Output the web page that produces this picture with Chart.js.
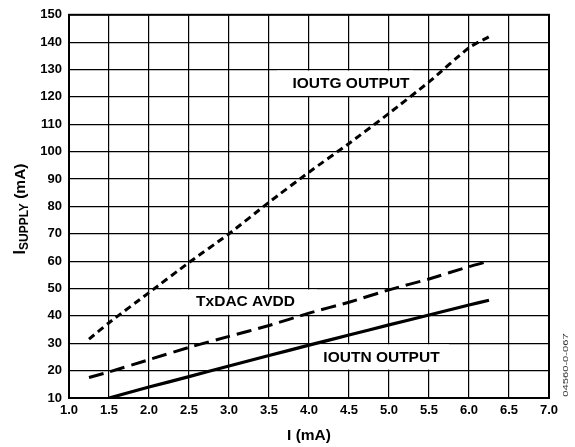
<!DOCTYPE html>
<html>
<head>
<meta charset="utf-8">
<script src="https://cdn.jsdelivr.net/npm/chart.js@4.4.1/dist/chart.umd.min.js"></script>
<style>
html,body{margin:0;padding:0;background:#fff;}
#wrap{width:575px;height:447px;position:relative;}
</style>
</head>
<body>
<div id="wrap"><canvas id="c" width="575" height="447"></canvas></div>
<script>
// Data
const currentMA = [1.25, 1.5, 2.0, 2.5, 3.0, 3.5, 4.0, 4.5, 5.0, 5.5, 6.0, 6.25];
const ioutgOutput = [31.5, 37.5, 48.5, 59.5, 70, 81.5, 92.5, 103, 114, 125.5, 138, 142];
const txdacAvdd = [17.5, 19.5, 24, 28.5, 32.5, 36.5, 41, 45, 49.5, 53.5, 58, 60];
const ioutnX = [1.5, 2.0, 2.5, 3.0, 3.5, 4.0, 4.5, 5.0, 5.5, 6.0, 6.25];
const ioutnOutput = [10, 14, 17.8, 21.7, 25.5, 29.3, 33, 36.7, 40.3, 44, 45.7];
const xTicks = [1.0, 1.5, 2.0, 2.5, 3.0, 3.5, 4.0, 4.5, 5.0, 5.5, 6.0, 6.5, 7.0];
const yTicks = [10, 20, 30, 40, 50, 60, 70, 80, 90, 100, 110, 120, 130, 140, 150];
const annotations = [
  {text: 'IOUTG OUTPUT', x: 4.525, y: 124.8, x0: 3.6, x1: 5.3, yTop: 130, yBot: 120},
  {text: 'TxDAC AVDD', x: 3.206, y: 45, x0: 2.4, x1: 4.1, yTop: 50, yBot: 40},
  {text: 'IOUTN OUTPUT', x: 4.906, y: 24.6, x0: 4.1, x1: 5.75, yTop: 30, yBot: 20}
];

const toPts = (xs, ys) => xs.map((x, i) => ({x: x, y: ys[i]}));
const FONT = '"Liberation Sans", Arial, Helvetica, sans-serif';

const decor = {
  id: 'decor',
  beforeDatasetsDraw(chart) {
    const {ctx, scales: {x, y}} = chart;
    ctx.save();
    ctx.fillStyle = '#fff';
    annotations.forEach(a => {
      const l = x.getPixelForValue(a.x0), r = x.getPixelForValue(a.x1);
      const t = y.getPixelForValue(a.yTop) + 1, b = y.getPixelForValue(a.yBot) - 1;
      ctx.fillRect(l, t, r - l, b - t);
    });
    ctx.fillStyle = '#000';
    ctx.font = 'bold 15.5px ' + FONT;
    ctx.textAlign = 'center';
    ctx.textBaseline = 'middle';
    annotations.forEach(a => {
      ctx.fillText(a.text, x.getPixelForValue(a.x), y.getPixelForValue(a.y));
    });
    ctx.restore();
  },
  afterDraw(chart) {
    const {ctx, chartArea: ca} = chart;
    ctx.save();
    ctx.strokeStyle = '#000';
    ctx.lineWidth = 2;
    ctx.strokeRect(ca.left, ca.top, ca.right - ca.left, ca.bottom - ca.top);
    // x title
    ctx.fillStyle = '#000';
    ctx.font = 'bold 15.5px ' + FONT;
    ctx.textAlign = 'center';
    ctx.textBaseline = 'middle';
    ctx.fillText('I (mA)', (ca.left + ca.right) / 2, 436);
    // y title with subscript
    ctx.translate(19, 209);
    ctx.rotate(-Math.PI / 2);
    ctx.textAlign = 'left';
    ctx.textBaseline = 'alphabetic';
    const f1 = 'bold 16px ' + FONT, f2 = 'bold 12px ' + FONT, f3 = 'bold 15.5px ' + FONT;
    ctx.font = f1; const w1 = ctx.measureText('I').width;
    ctx.font = f2; const w2 = ctx.measureText('SUPPLY').width;
    ctx.font = f3; const w3 = ctx.measureText(' (mA)').width;
    let sx = -(w1 + w2 + w3) / 2;
    const base = 6;
    ctx.font = f1; ctx.fillText('I', sx, base); sx += w1;
    ctx.font = f2; ctx.fillText('SUPPLY', sx, base + 3); sx += w2;
    ctx.font = f3; ctx.fillText(' (mA)', sx, base);
    ctx.restore();
    // side note
    ctx.save();
    ctx.translate(566, 365);
    ctx.rotate(-Math.PI / 2);
    ctx.scale(1.4, 1);
    ctx.fillStyle = '#333';
    ctx.font = '8px ' + FONT;
    ctx.textAlign = 'center';
    ctx.textBaseline = 'middle';
    ctx.fillText('04560-0-067', 0, 0);
    ctx.restore();
  }
};

new Chart(document.getElementById('c'), {
  type: 'line',
  data: {
    datasets: [
      {label: 'IOUTG OUTPUT', data: toPts(currentMA, ioutgOutput), borderColor: '#000', borderWidth: 3, borderDash: [7, 4.5], pointRadius: 0, tension: 0.2, fill: false},
      {label: 'TxDAC AVDD', data: toPts(currentMA, txdacAvdd), borderColor: '#000', borderWidth: 3, borderDash: [15, 7], pointRadius: 0, tension: 0.2, fill: false},
      {label: 'IOUTN OUTPUT', data: toPts(ioutnX, ioutnOutput), borderColor: '#000', borderWidth: 3.2, pointRadius: 0, tension: 0.2, fill: false}
    ]
  },
  options: {
    responsive: false,
    animation: false,
    devicePixelRatio: 1,
    layout: {padding: {top: 14, right: 26, left: 0, bottom: 0}},
    plugins: {legend: {display: false}, tooltip: {enabled: false}},
    scales: {
      x: {
        type: 'linear', min: 1, max: 7,
        afterBuildTicks: s => { s.ticks = xTicks.map(v => ({value: v})); },
        afterFit: s => { s.height = 49; },
        grid: {color: '#000', lineWidth: 1.2, drawTicks: false},
        border: {display: false},
        ticks: {color: '#000', padding: 5, font: {family: FONT, size: 13, weight: 'bold'}, callback: v => Number(v).toFixed(1), maxRotation: 0, autoSkip: false}
      },
      y: {
        type: 'linear', min: 10, max: 150,
        afterBuildTicks: s => { s.ticks = yTicks.map(v => ({value: v})); },
        afterFit: s => { s.width = 69; },
        grid: {color: '#000', lineWidth: 1.2, drawTicks: false},
        border: {display: false},
        ticks: {color: '#000', padding: 7, font: {family: FONT, size: 13, weight: 'bold'}, autoSkip: false}
      }
    }
  },
  plugins: [decor]
});
</script>
</body>
</html>
